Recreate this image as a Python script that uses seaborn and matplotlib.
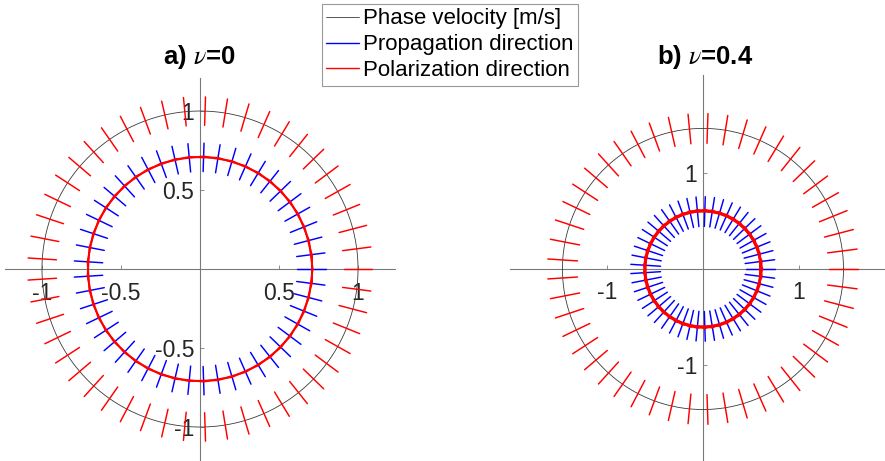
import numpy as np
import pandas as pd
import matplotlib
matplotlib.use("Agg")
import matplotlib.pyplot as plt
from matplotlib.lines import Line2D
import seaborn as sns

# Wave speeds (E = 1, rho = 1) for the two Poisson ratios
poisson = [0.0, 0.4]
panel_tags = ["a)", "b)"]
p_speed = [1.0, 1.464]      # longitudinal phase velocity
s_speed = [0.707, 0.598]    # transverse phase velocity
n_directions = 49

tick_values = [[-1, -0.5, 0.5, 1], [-1, 1]]
tick_labels = [["-1", "-0.5", "0.5", "1"], ["-1", "1"]]
legend_labels = ["Phase velocity [m/s]", "Propagation direction", "Polarization direction"]

# glyph length of the direction markers (data units) per panel
seg_len = [0.18, 0.31]
# axes boxes in figure fractions and their data limits
boxes = [[5 / 885, 0.0, 390 / 885, 383 / 461], [510 / 885, 0.0, 375 / 885, 386 / 461]]
xlims = [(-1.234, 1.234), (-2.01, 1.896)]
ylims = [(-1.215, 1.209), (-2.0, 2.02)]
title_x = [199 / 885, 705 / 885]

sns.set_theme(style="white")
plt.rcParams["font.family"] = ["Liberation Sans", "DejaVu Sans"]
plt.rcParams["mathtext.fontset"] = "stix"

RED = "#ff0000"
BLUE = "#0000ff"
AXIS_GRAY = "#7a7a7a"
TEXT = "#262626"


def glyphs(radius, theta, length, tangential=False):
    """Short segments centred on a circle of given radius."""
    cx, cy = radius * np.cos(theta), radius * np.sin(theta)
    if tangential:
        dx, dy = -np.sin(theta), np.cos(theta)
    else:
        dx, dy = np.cos(theta), np.sin(theta)
    h = length / 2
    rows = []
    for k in range(len(theta)):
        rows.append((k, cx[k] - h * dx[k], cy[k] - h * dy[k]))
        rows.append((k, cx[k] + h * dx[k], cy[k] + h * dy[k]))
    return pd.DataFrame(rows, columns=["seg", "x", "y"])


fig = plt.figure(figsize=(8.85, 4.61), dpi=100)
theta = np.arange(n_directions) * 2 * np.pi / n_directions
phi = np.linspace(0, 2 * np.pi, 400)

for i in range(2):
    ax = fig.add_axes(boxes[i])
    L = seg_len[i]

    circle = pd.DataFrame({"x": p_speed[i] * np.cos(phi), "y": p_speed[i] * np.sin(phi)})
    sns.lineplot(data=circle, x="x", y="y", sort=False, estimator=None,
                 color="#3a3a3a", lw=0.6, ax=ax, zorder=3)

    # propagation directions (radial) around the transverse wave surface
    sns.lineplot(data=glyphs(s_speed[i], theta, L), x="x", y="y", units="seg", estimator=None,
                 sort=False, color=BLUE, lw=1.05, ax=ax, zorder=4)
    # polarization: radial for P wave (same as its propagation), tangential for S wave
    sns.lineplot(data=glyphs(p_speed[i], theta, L), x="x", y="y", units="seg", estimator=None,
                 sort=False, color=RED, lw=1.05, ax=ax, zorder=5)
    sns.lineplot(data=glyphs(s_speed[i], theta, L, tangential=True), x="x", y="y", units="seg",
                 estimator=None, sort=False, color=RED, lw=1.4, ax=ax, zorder=5)

    ax.set_xlim(*xlims[i])
    ax.set_ylim(*ylims[i])
    ax.set_xlabel("")
    ax.set_ylabel("")
    ax.patch.set_visible(False)
    for side in ("top", "right"):
        ax.spines[side].set_visible(False)
    for side in ("left", "bottom"):
        ax.spines[side].set_position(("data", 0))
        ax.spines[side].set_color(AXIS_GRAY)
        ax.spines[side].set_linewidth(0.8)
        ax.spines[side].set_zorder(2)
    ax.set_xticks(tick_values[i], tick_labels[i])
    ax.set_yticks(tick_values[i], tick_labels[i])
    ax.tick_params(direction="in", length=3, width=0.6, color=AXIS_GRAY,
                   labelsize=16.5, labelcolor=TEXT)
    ax.tick_params(axis="x", pad=9)
    ax.tick_params(axis="y", pad=4)
    ax.tick_params(bottom=True, left=True)

    fig.text(title_x[i], 1 - 57 / 461, f"{panel_tags[i]} $\\nu$={poisson[i]:g}",
             ha="center", va="center", fontsize=18.5, fontweight="bold", color="black")

handles = [Line2D([], [], color="#3a3a3a", lw=0.6),
           Line2D([], [], color=BLUE, lw=1.0),
           Line2D([], [], color=RED, lw=1.0)]
leg = fig.legend(handles, legend_labels, loc="upper center", bbox_to_anchor=(450 / 885, 1 - 4 / 461),
                 fontsize=16, frameon=True, fancybox=False, framealpha=1, borderpad=0.2,
                 handlelength=1.45, handletextpad=0.2, labelspacing=0.22, borderaxespad=0)
leg.get_frame().set_edgecolor("#999999")
leg.get_frame().set_linewidth(0.8)
for t in leg.get_texts():
    t.set_color("black")

fig.savefig("out.png", dpi=100)
